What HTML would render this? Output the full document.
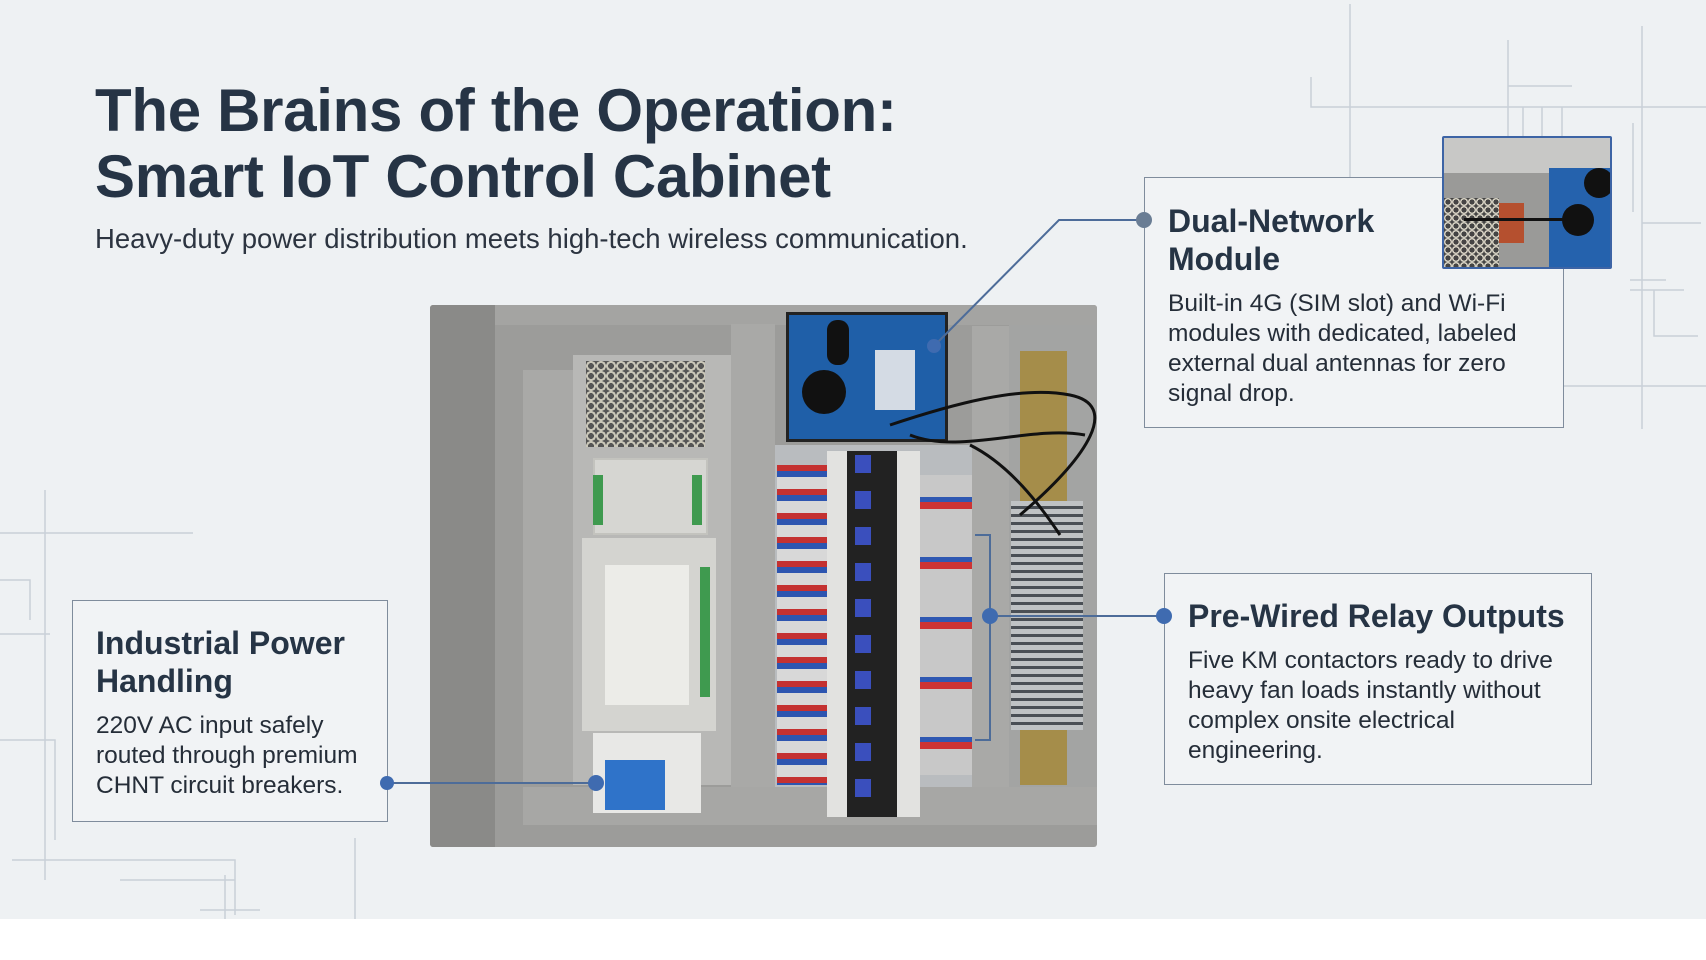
<!DOCTYPE html>
<html><head><meta charset="utf-8"><style>
*{margin:0;padding:0;box-sizing:border-box}
body{width:1706px;height:960px;background:#fff;position:relative;overflow:hidden;font-family:"Liberation Sans",sans-serif;color:#243040}
#bg{position:absolute;left:0;top:0;width:1706px;height:919px;background:#eef1f3}
.abs{position:absolute}
h1{position:absolute;left:95px;top:78px;font-size:60px;line-height:66px;font-weight:bold;color:#263445;letter-spacing:-0.3px}
.sub{left:95px;top:223px;font-size:27.5px;color:#2c3440}
.box{position:absolute;border:1.5px solid #7f8c9c;background:#f1f3f5}
.box h2{font-size:32px;line-height:38px;font-weight:bold;color:#263445}
.box p{font-size:24.5px;line-height:30px;color:#252d38;margin-top:11px}
</style></head><body>
<div id="bg"></div>
<svg class="abs" style="left:0;top:0" width="1706" height="919">
<g stroke="#c9d0d8" stroke-width="1.5" fill="none">
<path d="M1350 4V177M1311 77V107H1706M1508 40V136M1508 86H1572M1523 107V136M1542 107V136M1562 107V136M1642 26V429M1633 123V212M1642 223H1701M1630 280H1666M1630 290H1684M1654 290V336H1698M1564 386H1706"/>
<path d="M45 490V880M0 533H193M0 580H30V620M0 634H50M0 740H55V840M12 860H235V880H120M235 860V915M355 838V919M225 875V919M200 910H260"/>
</g>
</svg>
<h1>The Brains of the Operation:<br>Smart IoT Control Cabinet</h1>
<div class="abs sub">Heavy-duty power distribution meets high-tech wireless communication.</div>

<div class="abs" style="left:430px;top:305px;width:667px;height:542px;background:#9c9c9a;border-radius:3px;overflow:hidden">
 <div class="abs" style="left:0;top:0;width:65px;height:542px;background:#8a8a88"></div>
 <div class="abs" style="left:65px;top:0;width:602px;height:20px;background:#a4a4a2"></div>
 <div class="abs" style="left:93px;top:65px;width:50px;height:414px;background:#a9a9a7"></div>
 <div class="abs" style="left:301px;top:19px;width:44px;height:463px;background:#a9a9a7"></div>
 <div class="abs" style="left:542px;top:21px;width:37px;height:467px;background:#a9a9a7"></div>
 <div class="abs" style="left:93px;top:482px;width:574px;height:38px;background:#a7a7a5"></div>
 <div class="abs" style="left:143px;top:50px;width:158px;height:430px;background:#b8b8b6"></div>
 <div class="abs" style="left:156px;top:56px;width:119px;height:86px;background:repeating-radial-gradient(circle at 5px 5px,#555 0 3px,#c9c6b8 3px 5px);background-size:10px 10px"></div>
 <div class="abs" style="left:163px;top:153px;width:115px;height:77px;background:#d6d6d2;border:2px solid #c3c3be"></div>
 <div class="abs" style="left:163px;top:170px;width:10px;height:50px;background:#3f9a4f"></div>
 <div class="abs" style="left:262px;top:170px;width:10px;height:50px;background:#3f9a4f"></div>
 <div class="abs" style="left:152px;top:233px;width:134px;height:193px;background:#d4d4d0"></div>
 <div class="abs" style="left:175px;top:260px;width:84px;height:140px;background:#ecece8"></div>
 <div class="abs" style="left:270px;top:262px;width:10px;height:130px;background:#3f9a4f"></div>
 <div class="abs" style="left:163px;top:428px;width:108px;height:80px;background:#e8e8e6"></div>
 <div class="abs" style="left:175px;top:455px;width:60px;height:50px;background:#2f73c9"></div>
 <div class="abs" style="left:345px;top:140px;width:197px;height:342px;background:#b9bcbf"></div>
 <div class="abs" style="left:356px;top:7px;width:162px;height:130px;background:#1f5fa8;border:3px solid #222"></div>
 <div class="abs" style="left:372px;top:65px;width:44px;height:44px;border-radius:50%;background:#111"></div>
 <div class="abs" style="left:397px;top:15px;width:22px;height:45px;border-radius:10px;background:#111"></div>
 <div class="abs" style="left:445px;top:45px;width:40px;height:60px;background:#d4dbe4"></div>
 <div class="abs" style="left:347px;top:160px;width:50px;height:320px;background:repeating-linear-gradient(180deg,#c43131 0 6px,#2d55b0 6px 12px,#d8d8d8 12px 24px)"></div>
 <div class="abs" style="left:490px;top:170px;width:52px;height:300px;background:repeating-linear-gradient(180deg,#c8c8c8 0 22px,#2f58b2 22px 27px,#c33 27px 34px,#c8c8c8 34px 60px)"></div>
 <div class="abs" style="left:397px;top:146px;width:93px;height:366px;background:repeating-linear-gradient(90deg,#e2e2e0 0 20px,#222 20px 70px,#e2e2e0 70px 93px)"></div>
 <div class="abs" style="left:425px;top:150px;width:16px;height:360px;background:repeating-linear-gradient(180deg,#3a4fbd 0 18px,#222 18px 36px)"></div>
 <div class="abs" style="left:579px;top:20px;width:88px;height:462px;background:#a3a4a3"></div>
 <div class="abs" style="left:590px;top:46px;width:47px;height:150px;background:#a58d4a"></div>
 <div class="abs" style="left:581px;top:196px;width:72px;height:229px;background:repeating-linear-gradient(180deg,#bfc2c4 0 5px,#4a4f55 5px 8px)"></div>
 <div class="abs" style="left:590px;top:425px;width:47px;height:55px;background:#a58d4a"></div>
 <svg class="abs" style="left:440px;top:60px" width="227" height="180"><path d="M20 60C80 40 150 20 200 30S220 90 150 150M40 70C90 90 160 60 215 70M100 80C140 100 170 140 190 170" stroke="#111" stroke-width="3" fill="none"/></svg>
</div>

<svg class="abs" style="left:0;top:0;z-index:5" width="1706" height="919">
<g stroke="#4d6c99" stroke-width="2" fill="none">
<path d="M1144 220H1059L934 346"/>
<path d="M1164 616H990"/>
<path d="M975 535H990V740H975"/>
<path d="M387 783H596"/>
</g>
<g fill="#3f6bb0"><circle cx="934" cy="346" r="7"/><circle cx="990" cy="616" r="8"/><circle cx="1164" cy="616" r="8"/><circle cx="387" cy="783" r="7"/><circle cx="596" cy="783" r="8"/></g>
<circle cx="1144" cy="220" r="8" fill="#6a7d94"/>
</svg>

<div class="box" style="left:1144px;top:177px;width:420px;height:251px;padding:24px 0 0 23px">
 <h2>Dual-Network<br>Module</h2>
 <p>Built-in 4G (SIM slot) and Wi-Fi<br>modules with dedicated, labeled<br>external dual antennas for zero<br>signal drop.</p>
</div>
<div class="abs" style="left:1442px;top:136px;width:170px;height:133px;border:2px solid #3d64a5;background:#9a9a98;overflow:hidden;border-radius:2px;z-index:6">
 <div class="abs" style="left:0;top:0;width:170px;height:35px;background:#c8c8c6"></div>
 <div class="abs" style="left:0;top:60px;width:55px;height:70px;background:repeating-radial-gradient(circle at 4px 4px,#444 0 2.5px,#cfcbbd 2.5px 4px);background-size:8px 8px"></div>
 <div class="abs" style="left:55px;top:65px;width:25px;height:40px;background:#b5502f"></div>
 <div class="abs" style="left:105px;top:30px;width:65px;height:103px;background:#2562ad"></div>
 <div class="abs" style="left:118px;top:66px;width:32px;height:32px;border-radius:50%;background:#111"></div>
 <div class="abs" style="left:140px;top:30px;width:30px;height:30px;border-radius:50%;background:#111"></div>
 <div class="abs" style="left:20px;top:80px;width:120px;height:3px;background:#111"></div>
</div>

<div class="box" style="left:1164px;top:573px;width:428px;height:212px;padding:23px 0 0 23px">
 <h2>Pre-Wired Relay Outputs</h2>
 <p>Five KM contactors ready to drive<br>heavy fan loads instantly without<br>complex onsite electrical<br>engineering.</p>
</div>

<div class="box" style="left:72px;top:600px;width:316px;height:222px;padding:23px 0 0 23px">
 <h2>Industrial Power<br>Handling</h2>
 <p>220V AC input safely<br>routed through premium<br>CHNT circuit breakers.</p>
</div>
</body></html>
